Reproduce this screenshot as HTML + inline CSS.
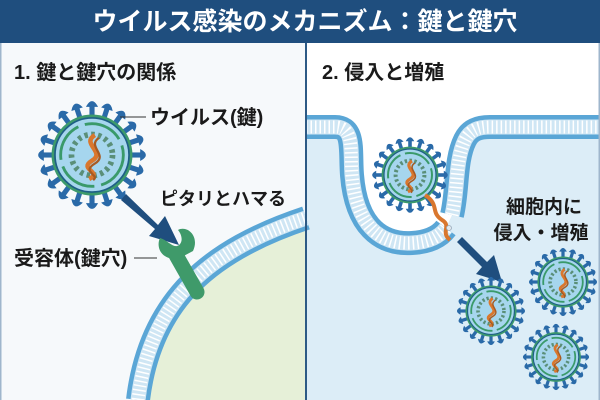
<!DOCTYPE html>
<html><head><meta charset="utf-8"><style>
html,body{margin:0;padding:0;width:600px;height:400px;overflow:hidden;background:#fff}
svg{display:block}
text{font-family:"Liberation Sans","Noto Sans CJK JP",sans-serif;font-weight:bold}
</style></head><body>
<svg width="600" height="400" viewBox="0 0 600 400" xmlns="http://www.w3.org/2000/svg">
<defs>
<g id="spk"><line x1="0" y1="-0.68" x2="0" y2="-0.88" stroke="#2a6aa8" stroke-width="0.09"/><path d="M-0.08,-0.86 Q0,-1.0 0.08,-0.86 Z" fill="#2a6aa8" stroke="#2a6aa8" stroke-width="0.03"/></g>
<g id="vir">
<g>
<use href="#spk" transform="rotate(0)"/><use href="#spk" transform="rotate(18)"/><use href="#spk" transform="rotate(36)"/><use href="#spk" transform="rotate(54)"/><use href="#spk" transform="rotate(72)"/><use href="#spk" transform="rotate(90)"/><use href="#spk" transform="rotate(108)"/><use href="#spk" transform="rotate(126)"/><use href="#spk" transform="rotate(144)"/><use href="#spk" transform="rotate(162)"/><use href="#spk" transform="rotate(180)"/><use href="#spk" transform="rotate(198)"/><use href="#spk" transform="rotate(216)"/><use href="#spk" transform="rotate(234)"/><use href="#spk" transform="rotate(252)"/><use href="#spk" transform="rotate(270)"/><use href="#spk" transform="rotate(288)"/><use href="#spk" transform="rotate(306)"/><use href="#spk" transform="rotate(324)"/><use href="#spk" transform="rotate(342)"/>
</g>
<circle r="0.71" fill="#3d9a6c"/>
<circle r="0.65" fill="#a6d6ee" stroke="#1e5f86" stroke-width="0.03"/>
<circle r="0.55" fill="none" stroke="#3a9a6a" stroke-width="0.05" stroke-dasharray="0.7 0.12"/>
<circle r="0.36" fill="none" stroke="#5a8f78" stroke-width="0.1" stroke-dasharray="0.06 0.06"/>
<path d="M0.05,-0.35 C-0.2,-0.2 0.25,-0.05 0,0.1 C-0.25,0.25 0.2,0.3 -0.05,0.42" fill="none" stroke="#d9772e" stroke-width="0.08"/>
<path d="M0.12,-0.3 C-0.1,-0.15 0.3,0 0.05,0.15 C-0.2,0.3 0.15,0.35 0.02,0.44" fill="none" stroke="#a85a22" stroke-width="0.04"/>
</g>
</defs>
<rect x="0" y="0" width="600" height="400" fill="#f6f9fb"/>
<rect x="306" y="43" width="294" height="357" fill="#fff"/>
<path d="M306,127 H335 C355,127 350,150 352,175 C356,225 380,245 412,243 C430,242 440,236 446,228 L452,215 C458,190 455,160 465,140 C470,130 478,127 490,127 H600 V400 H306 Z" fill="#dcedf7"/>
<path d="M138,400 C150,300 210,250 306,218 V400 Z" fill="#e6f0d8"/>
<g fill="none">
<path d="M138,400 C150,300 210,250 306,218" stroke="#5aa6d6" stroke-width="24"/>
<path d="M138,400 C150,300 210,250 306,218" stroke="#cfe6f4" stroke-width="15"/>
<path d="M138,400 C150,300 210,250 306,218" stroke="#fff" stroke-width="13" stroke-dasharray="1.5 3"/>
</g>
<g fill="none">
<path d="M306,127 H335 C355,127 350,150 352,175 C356,225 380,245 412,243 C430,242 440,236 446,228" stroke="#5aa6d6" stroke-width="24"/>
<path d="M306,127 H335 C355,127 350,150 352,175 C356,225 380,245 412,243 C430,242 440,236 446,228" stroke="#cfe6f4" stroke-width="15"/>
<path d="M306,127 H335 C355,127 350,150 352,175 C356,225 380,245 412,243 C430,242 440,236 446,228" stroke="#fff" stroke-width="13" stroke-dasharray="1.5 3"/>
<path d="M452,215 C458,190 455,160 465,140 C470,130 478,127 490,127 H600" stroke="#5aa6d6" stroke-width="24"/>
<path d="M452,215 C458,190 455,160 465,140 C470,130 478,127 490,127 H600" stroke="#cfe6f4" stroke-width="15"/>
<path d="M452,215 C458,190 455,160 465,140 C470,130 478,127 490,127 H600" stroke="#fff" stroke-width="13" stroke-dasharray="1.5 3"/>
</g>
<rect x="0" y="0" width="600" height="43" fill="#1f4e7e"/>
<text x="305" y="30" text-anchor="middle" font-size="25" fill="#fff">ウイルス感染のメカニズム：鍵と鍵穴</text>
<rect x="305" y="43" width="2" height="357" fill="#2d5a85"/>
<rect x="0" y="43" width="1.5" height="357" fill="#9fb6cc"/>
<rect x="598.5" y="43" width="1.5" height="357" fill="#9fb6cc"/>
<text x="14" y="79" font-size="20" fill="#1a1a1a">1. 鍵と鍵穴の関係</text>
<text x="322" y="79" font-size="20" fill="#1a1a1a">2. 侵入と増殖</text>
<use href="#vir" transform="translate(92,155) scale(57)"/>
<line x1="120" y1="117" x2="146" y2="117" stroke="#333" stroke-width="1"/>
<text x="150" y="124" font-size="20" fill="#1a1a1a">ウイルス(鍵)</text>
<text x="160" y="205" font-size="18" fill="#1a1a1a">ピタリとハマる</text>
<path d="M126,194 L158,225 L165,216 L179,245 L149,236 L155,229 L121,200 Z" fill="#1f4e7e"/>
<path d="M197,292 L176,255" stroke="#3f9a6a" stroke-width="15" stroke-linecap="round"/>
<path d="M178,259 C160,260 156,246 160,238 C167,240 172,247 177,246 C183,244 183,236 178,230 C187,225 200,236 193,251 Z" fill="#3f9a6a"/>
<line x1="134" y1="258" x2="157" y2="258" stroke="#333" stroke-width="1"/>
<text x="14" y="265" font-size="20" fill="#1a1a1a">受容体(鍵穴)</text>
<use href="#vir" transform="translate(410,175) scale(40)"/>
<path d="M425,195 C440,205 430,212 442,220 C452,226 440,232 450,240" fill="none" stroke="#d9772e" stroke-width="4"/>
<circle cx="449" cy="228" r="2.5" fill="#dfe8ee" stroke="#9ab" stroke-width="0.8"/>
<text x="544" y="213" text-anchor="middle" font-size="19" fill="#1a1a1a">細胞内に</text>
<text x="541" y="239" text-anchor="middle" font-size="19" fill="#1a1a1a">侵入・増殖</text>
<path d="M462,237 L487,262 L494,255 L502,282 L476,274 L482,267 L457,242 Z" fill="#1f4e7e"/>
<use href="#vir" transform="translate(491,311) scale(36)"/>
<use href="#vir" transform="translate(563,282) scale(36)"/>
<use href="#vir" transform="translate(556,357) scale(35)"/>
</svg>
</body></html>
